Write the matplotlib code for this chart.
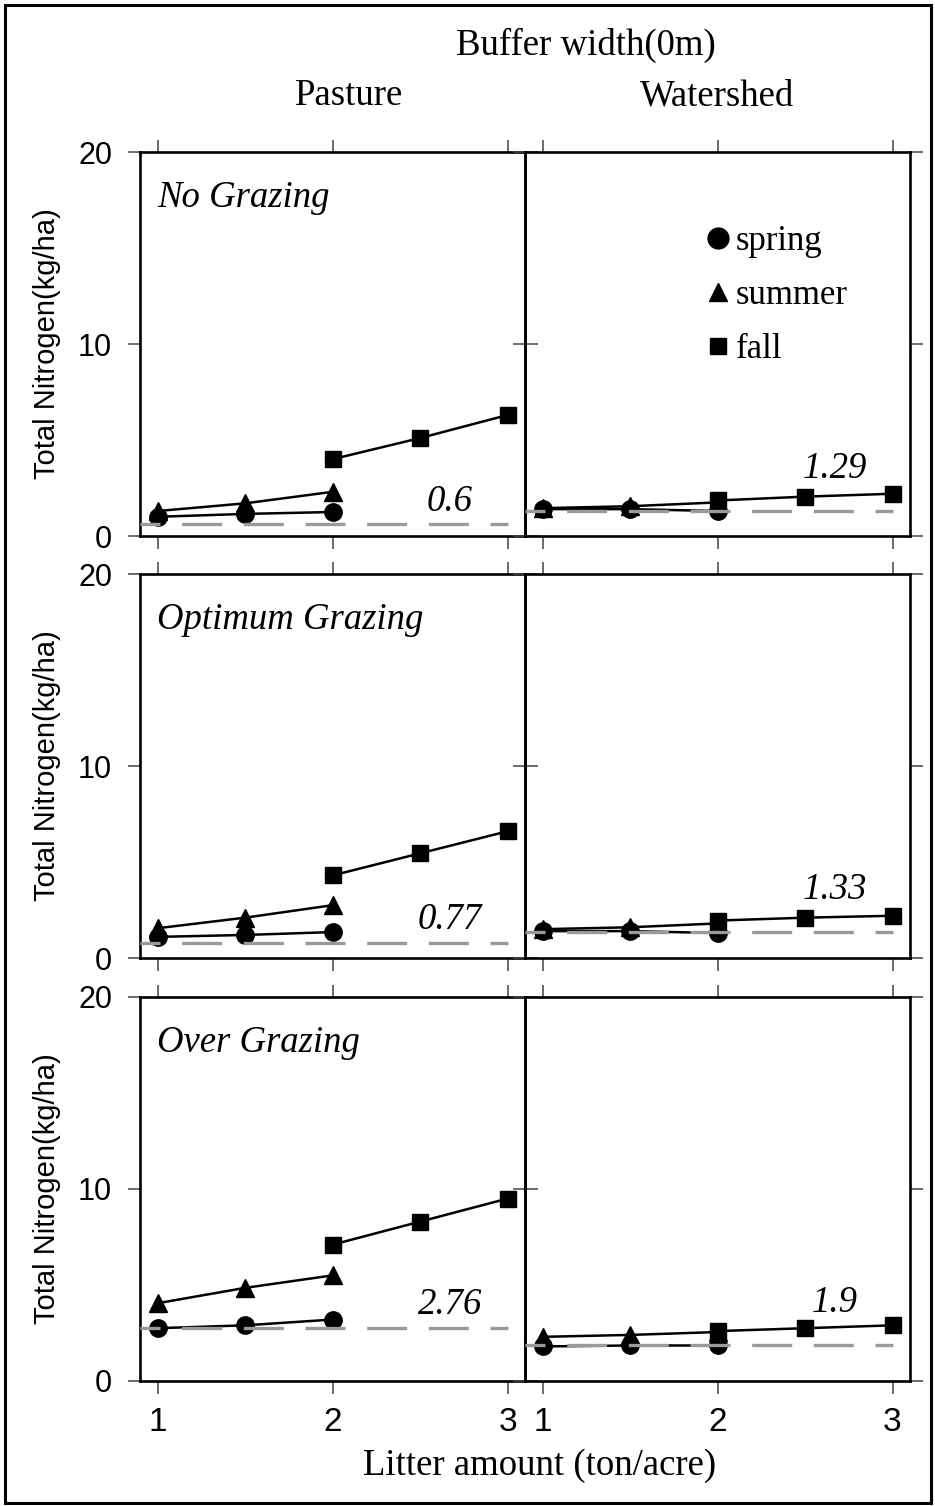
import matplotlib.pyplot as plt
from matplotlib.lines import Line2D
from matplotlib.patches import Rectangle

# litter amounts (ton/acre)
x_low = [1.0, 1.5, 2.0]    # spring / summer
x_high = [2.0, 2.5, 3.0]   # fall

grazing = ['No Grazing', 'Optimum Grazing', 'Over Grazing']
columns = ['Pasture', 'Watershed']

# total nitrogen (kg/ha), one row per grazing level
pasture_spring = [[1.0, 1.15, 1.25], [1.1, 1.2, 1.35], [2.75, 2.9, 3.2]]
pasture_summer = [[1.3, 1.7, 2.3], [1.55, 2.1, 2.75], [4.05, 4.85, 5.5]]
pasture_fall = [[4.0, 5.1, 6.3], [4.3, 5.45, 6.6], [7.1, 8.3, 9.5]]
pasture_base = [0.6, 0.77, 2.76]

watershed_spring = [[1.4, 1.4, 1.3], [1.4, 1.4, 1.3], [1.8, 1.85, 1.85]]
watershed_summer = [[1.45, 1.55, 1.75], [1.5, 1.6, 1.8], [2.3, 2.4, 2.55]]
watershed_fall = [[1.85, 2.05, 2.2], [1.95, 2.1, 2.2], [2.6, 2.75, 2.9]]
watershed_base = [1.29, 1.33, 1.9]

SERIF = 'Liberation Serif'
SANS = 'Liberation Sans'

W, H = 935, 1506
fig = plt.figure(figsize=(W / 100, H / 100), dpi=100)

# outer frame of the figure
fig.patches.append(Rectangle((0.005, 0.002), 0.991, 0.995, transform=fig.transFigure,
                             fill=False, edgecolor='black', linewidth=2.2))

col_left = [140, 525]
row_top = [152, 574, 997]
pw, ph = 385, 384

data = {
    0: (pasture_spring, pasture_summer, pasture_fall, pasture_base),
    1: (watershed_spring, watershed_summer, watershed_fall, watershed_base),
}

for r in range(3):
    for c in range(2):
        ax = fig.add_axes([col_left[c] / W, 1 - (row_top[r] + ph) / H, pw / W, ph / H])
        ax.patch.set_alpha(0)
        spring, summer, fall, base = data[c]

        ax.plot(x_low, spring[r], '-o', color='black', lw=1.8, ms=12.5, zorder=2)
        ax.plot(x_low, summer[r], '-^', color='black', lw=1.8, ms=13, zorder=2)
        ax.plot(x_high, fall[r], '-s', color='black', lw=1.8, ms=12, zorder=2)
        ax.hlines(base[r], 0.9, 3.0, colors='#9a9a9a', linewidth=2.4,
                  linestyles=(6, (12, 6.5)), zorder=3)

        off = 1.2 if c == 0 else 2.2
        ax.text(2.67, base[r] + off, str(base[r]), fontsize=26.5, style='italic',
                family=SERIF, ha='center', va='center')

        ax.set_xlim(0.9, 3.1)
        ax.set_ylim(0, 20)
        ax.set_xticks([1, 2, 3])
        ax.set_yticks([0, 10, 20])
        for s in ax.spines.values():
            s.set_linewidth(1.9)
        ax.tick_params(direction='out', length=9, width=1.1, color='#444444',
                       top=True, bottom=True, left=True, right=True,
                       labelsize=22, pad=10)
        ax.tick_params(axis='y', labelleft=(c == 0), labelright=False, pad=11)
        ax.tick_params(axis='x', labelbottom=(r == 2), labeltop=False)
        for lab in ax.get_xticklabels() + ax.get_yticklabels():
            lab.set_family(SANS)
        if r == 2:
            for lab in ax.get_xticklabels():
                lab.set_fontsize(24)

        if c == 0:
            ax.set_ylabel('Total Nitrogen(kg/ha)', family=SANS, fontsize=21)
            ax.yaxis.set_label_coords(-0.205, 0.5)
            ax.text(0.044, 0.88, grazing[r], transform=ax.transAxes, fontsize=26.5,
                    style='italic', family=SERIF, ha='left', va='center')

        if r == 0 and c == 1:
            handles = [Line2D([], [], ls='none', marker='o', color='black', ms=15),
                       Line2D([], [], ls='none', marker='^', color='black', ms=13),
                       Line2D([], [], ls='none', marker='s', color='black', ms=11)]
            ax.legend(handles, ['spring', 'summer', 'fall'], loc='upper left',
                      bbox_to_anchor=(0.385, 0.89), frameon=False,
                      prop={'family': SERIF, 'size': 25}, handlelength=0.8,
                      handletextpad=0.1, labelspacing=0.6)

fig.text(586 / W, 1 - 45 / H, 'Buffer width(0m)', family=SERIF, fontsize=26.5,
         ha='center', va='center')
fig.text(349 / W, 1 - 96 / H, 'Pasture', family=SERIF, fontsize=26.5,
         ha='center', va='center')
fig.text(717 / W, 1 - 96 / H, 'Watershed', family=SERIF, fontsize=26.5,
         ha='center', va='center')
fig.text(540 / W, 1 - 1466 / H, 'Litter amount (ton/acre)', family=SERIF,
         fontsize=26.5, ha='center', va='center')

fig.savefig('out.png', dpi=100)
